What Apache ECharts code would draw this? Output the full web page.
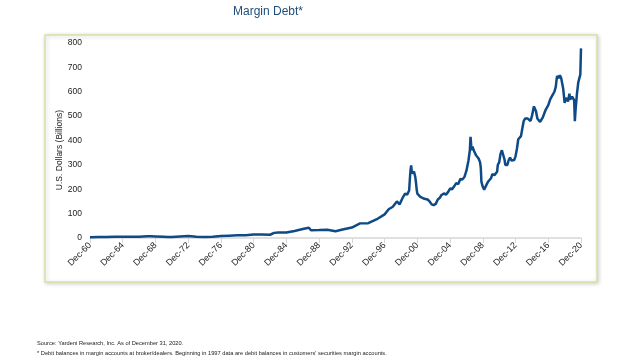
<!DOCTYPE html>
<html><head><meta charset="utf-8">
<script src="https://cdn.jsdelivr.net/npm/echarts@6/dist/echarts.min.js"></script>
<style>html,body{margin:0;padding:0;background:#fff}#c{width:624px;height:361px}</style>
</head><body><div id="c"></div>
<script>
// Margin debt (US$ billions), month-end dates
const dates = [
"1960-12","1961-12","1962-06","1962-12","1963-12","1964-12","1965-12","1966-12","1967-12","1968-06","1968-12","1969-12",
"1970-06","1970-12","1971-12","1972-12","1973-12","1974-12","1975-12","1976-12","1977-12","1978-12","1979-12",
"1980-12","1981-12","1982-12","1983-06","1983-12","1984-12","1985-12","1986-12","1987-09","1987-12","1988-12","1989-12",
"1990-12","1991-12","1992-12","1993-12","1994-12","1995-12","1996-12","1997-06","1997-12","1998-06","1998-10","1998-12",
"1999-03","1999-06","1999-09","1999-12","2000-01","2000-02","2000-03","2000-04","2000-05","2000-06","2000-07","2000-08",
"2000-09","2000-10","2000-11","2000-12","2001-02","2001-04","2001-06","2001-09","2001-12","2002-03","2002-06","2002-09",
"2002-12","2003-03","2003-06","2003-09","2003-11","2003-12","2004-03","2004-06","2004-09","2004-12","2005-03","2005-06","2005-09",
"2005-12","2006-03","2006-06","2006-09","2006-12","2007-03","2007-05","2007-06","2007-07","2007-08","2007-09","2007-10",
"2007-11","2007-12","2008-01","2008-02","2008-04","2008-06","2008-08","2008-09","2008-10","2008-12","2009-02","2009-04",
"2009-06","2009-08","2009-10","2009-12","2010-02","2010-04","2010-05","2010-07","2010-09","2010-10","2010-12","2011-02",
"2011-04","2011-06","2011-08","2011-09","2011-11","2011-12","2012-02","2012-04","2012-06","2012-08","2012-10","2012-12",
"2013-02","2013-04","2013-06","2013-08","2013-10","2013-12","2014-02","2014-04","2014-06","2014-08","2014-10","2014-12",
"2015-03","2015-04","2015-06","2015-08","2015-10","2015-12","2016-02","2016-04","2016-06","2016-08","2016-10","2016-12",
"2017-03","2017-06","2017-09","2017-11","2017-12","2018-01","2018-03","2018-05","2018-07","2018-09","2018-10","2018-12",
"2019-02","2019-04","2019-05","2019-07","2019-08","2019-10","2019-11","2019-12","2020-01","2020-02","2020-03","2020-04",
"2020-06","2020-08","2020-10","2020-11","2020-12"
];
const marginDebt = [
3.2,4.3,3.7,4.3,5.5,5.1,5.5,4.7,6.7,7.3,6.6,5.1,
4.0,4.6,6.4,7.8,5.0,3.8,5.5,8.2,9.7,10.8,11.6,
14.7,14.4,13.3,21,23,22.5,28.4,36.8,42,32,32.7,34,
28,36,43,60,61,76,97,118,128,150,138,145,
168,182,178,195,240,278,298,265,262,268,272,262,
250,228,200,182,188,170,165,162,160,158,150,138,
135,140,158,165,175,170,183,178,188,203,200,212,225,
221,242,240,250,276,318,360,415,380,360,375,365,
372,352,360,340,345,325,310,290,230,210,198,205,
222,232,240,245,262,270,258,262,272,300,310,345,
360,355,320,300,306,300,320,330,318,325,320,335,
365,405,410,418,450,480,490,482,490,488,480,500,
540,548,520,490,483,476,478,495,500,525,535,545,
570,585,600,620,645,665,655,668,655,650,610,554,
575,580,560,592,568,565,580,578,575,565,479,525,
590,638,660,670,778
];
const yTicks = [0,100,200,300,400,500,600,700,800];
const titleText = "Margin Debt*";
const yName = "U.S. Dollars (Billions)";
const note1 = "Source: Yardeni Research, Inc. As of December 31, 2020.";
const note2 = "* Debit balances in margin accounts at broker/dealers. Beginning in 1997 data are debit balances in customers' securities margin accounts.";

function monthIndex(s){const [y,m]=s.split('-').map(Number);return (y-1960)*12+(m-12);}
const seriesData = dates.map((d,i)=>[monthIndex(d), marginDebt[i]]);
const FONT = "'Liberation Sans', Arial, sans-serif";

const chart = echarts.init(document.getElementById('c'), null, {renderer:'canvas'});
chart.setOption({
  animation:false,
  backgroundColor:'#fff',
  grid:{left:90, right:43, top:43, bottom:123},
  graphic:[
    {type:'rect', z:-10, shape:{x:45,y:35,width:552,height:247},
     style:{fill:'#fff', stroke:'#d9e0a6', lineWidth:1.5, shadowBlur:4, shadowColor:'rgba(0,0,0,0.18)', shadowOffsetX:1, shadowOffsetY:1}},
    {type:'text', x:268, y:6, style:{text:titleText, fill:'#1f4e79', font:'12px '+FONT, textAlign:'center', textVerticalAlign:'top'}},
    {type:'text', x:60, y:150, rotation:Math.PI/2, style:{text:yName, fill:'#222', font:'8.5px '+FONT, textAlign:'center', textVerticalAlign:'middle'}},
    {type:'text', x:37, y:343, style:{text:note1, fill:'#222', font:'5.7px '+FONT, textAlign:'left', textVerticalAlign:'middle'}},
    {type:'text', x:37, y:353, style:{text:note2, fill:'#222', font:'5.7px '+FONT, textAlign:'left', textVerticalAlign:'middle'}}
  ],
  xAxis:{type:'value', min:0, max:720, interval:48,
    axisLine:{show:true, lineStyle:{color:'#d6d6d6', width:1.5}},
    axisTick:{show:true, length:5, lineStyle:{color:'#d6d6d6'}},
    splitLine:{show:false},
    axisLabel:{rotate:45, margin:6, color:'#222', fontSize:9, fontFamily:FONT,
      formatter:v=>'Dec-'+String(Math.round(1960+v/12)%100).padStart(2,'0')}},
  yAxis:{type:'value', min:yTicks[0], max:yTicks[yTicks.length-1], interval:100,
    axisLine:{show:false}, axisTick:{show:false}, splitLine:{show:false},
    axisLabel:{margin:8, color:'#222', fontSize:8.5, fontFamily:FONT}},
  series:[{type:'line', data:seriesData, showSymbol:false, symbol:'none',
    lineStyle:{color:'#0d4a86', width:2.5}, z:5}]
});
</script></body></html>
